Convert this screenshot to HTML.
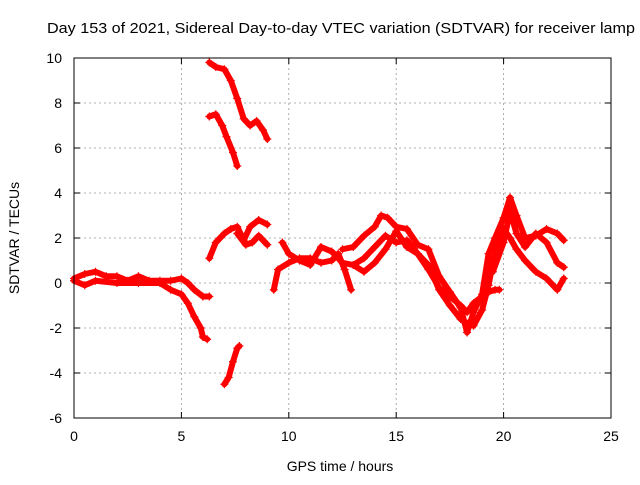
<!DOCTYPE html>
<html><head><meta charset="utf-8"><style>
body{margin:0;background:#fff}
svg text{font-family:"Liberation Sans",sans-serif;font-size:14px;fill:#000}
</style></head><body>
<svg id="chart" width="640" height="480">
<rect width="640" height="480" fill="#fff"/>
<text x="47" y="33" textLength="588" lengthAdjust="spacingAndGlyphs" style="font-size:15px">Day 153 of 2021, Sidereal Day-to-day VTEC variation (SDTVAR) for receiver lamp</text>
<text x="340" y="471" text-anchor="middle">GPS time / hours</text>
<text transform="translate(19,238) rotate(-90)" text-anchor="middle">SDTVAR / TECUs</text>
<g id="grid"></g><g id="ticks"></g><g id="marks"></g>
<rect x="74" y="58" width="537" height="360" fill="none" stroke="#000"/>
</svg>
<script>
const xTicks=[0,5,10,15,20,25];
const yTicks=[-6,-4,-2,0,2,4,6,8,10];
const s1=[[0,0.2],[0.5,0.4],[1,0.5],[1.5,0.3],[2,0.3],[2.5,0.1],[3,0.3],[3.5,0.1],[4,0.1],[4.5,0.1],[5,0.2],[5.3,0],[5.6,-0.3],[6,-0.6],[6.3,-0.6]];
const s1b=[[0,0.1],[0.5,-0.1],[1,0.1],[2,0],[3,0],[4,0],[4.5,-0.3],[5,-0.5],[5.3,-0.9],[5.6,-1.5],[5.9,-2],[6,-2.4],[6.2,-2.5]];
const s2=[[6.3,9.8],[6.6,9.6],[7,9.5],[7.3,9],[7.6,8.2],[7.9,7.3],[8.2,7],[8.5,7.2],[8.8,6.8],[9,6.4]];
const s3=[[6.3,7.4],[6.6,7.5],[6.9,7],[7.1,6.5],[7.4,5.8],[7.6,5.2]];
const s4=[[7,-4.5],[7.2,-4.2],[7.4,-3.5],[7.6,-2.9],[7.7,-2.8]];
const s5=[[6.3,1.1],[6.6,1.8],[7,2.2],[7.3,2.4],[7.6,2.5],[7.9,1.9],[8.2,2.5],[8.6,2.8],[9,2.6]];
const s5b=[[7.6,2.2],[8,1.7],[8.3,1.8],[8.6,2.1],[9,1.7]];
const s6=[[9.3,-0.3],[9.5,0.6],[10,0.9],[10.5,1.1],[11,1.1],[11.5,0.9],[12,1],[12.3,1.3],[12.6,0.6],[12.9,-0.3]];
const s6b=[[9.7,1.8],[10,1.3],[10.5,1.0],[11,0.8],[11.5,1.6],[12,1.4],[12.5,0.9],[13,0.8],[13.5,0.5],[14,0.9],[14.5,1.5],[15,2.3],[15.5,1.6],[16,1.3],[16.5,0.6],[17,-0.2],[17.5,-0.6],[18,-1],[18.3,-1.3],[18.6,-0.9],[19,-0.6],[19.3,-0.4],[19.6,-0.3],[19.8,-0.3]];
const s7=[[12.5,1.5],[13,1.6],[13.5,2.1],[14,2.5],[14.3,3],[14.6,2.9],[15,2.5],[15.5,2.4],[16,1.7],[16.5,1.5],[17,0.3],[17.5,-0.4],[18,-1.1],[18.3,-2.2],[18.6,-1.3],[19,-0.5],[19.3,1.3],[19.6,2],[20,2.9],[20.3,3.8],[20.6,3],[21,2],[21.5,2.1],[22,2.4],[22.5,2.2],[22.8,1.9]];
const s7b=[[13,0.8],[13.5,1.1],[14,1.6],[14.5,2.1],[15,1.8],[15.5,1.9],[16,1.3],[16.5,0.8],[17,-0.3],[17.5,-1],[18,-1.6],[18.3,-1.8],[18.6,-1.9],[19,-1.2],[19.3,-0.1],[19.6,1.4],[20,2.4],[20.3,2],[20.6,1.5],[21,1],[21.5,0.5],[22,0.2],[22.5,-0.3],[22.8,0.2]];
const s8=[[19.5,0.5],[20,1.8],[20.3,3.2],[20.6,2.2],[21,1.6],[21.5,2.2],[22,1.8],[22.5,0.9],[22.8,0.7]];
const series=[s1,s1b,s2,s3,s4,s5,s5b,s6,s6b,s7,s7b,s8];
const NS="http://www.w3.org/2000/svg";
const x0=74,x1=611,y0=418,y1=58;
const sx=v=>x0+(v-0)/(25-0)*(x1-x0);
const sy=v=>y0-(v+6)/16*(y0-y1);
function mk(t,a,p){const e=document.createElementNS(NS,t);for(const k in a)e.setAttribute(k,a[k]);p.appendChild(e);return e;}
const grid=document.getElementById('grid'),ticks=document.getElementById('ticks'),marks=document.getElementById('marks');
xTicks.forEach(v=>{const X=sx(v);
 if(v>0&&v<25){const g=mk('line',{x1:X,x2:X,y1:y1,y2:y0,stroke:'#999','stroke-dasharray':'2,3','stroke-width':0.8},grid);
 
 }
 mk('line',{x1:X,x2:X,y1:y0,y2:y0-6,stroke:'#000'},ticks);mk('line',{x1:X,x2:X,y1:y1,y2:y1+6,stroke:'#000'},ticks);
 const t=mk('text',{x:X,y:y0+23,'text-anchor':'middle'},ticks);t.textContent=v;
 
 });
yTicks.forEach(v=>{const Y=sy(v);
 if(v>-6&&v<10){const g=mk('line',{x1:x0,x2:x1,y1:Y,y2:Y,stroke:'#999','stroke-dasharray':'2,3','stroke-width':0.8},grid);
 
 }
 mk('line',{x1:x0,x2:x0+6,y1:Y,y2:Y,stroke:'#000'},ticks);mk('line',{x1:x1,x2:x1-6,y1:Y,y2:Y,stroke:'#000'},ticks);
 const t=mk('text',{x:x0-12,y:Y+5,'text-anchor':'end'},ticks);t.textContent=v;
 
 });
series.forEach((s,i)=>{
 const g=mk('g',{},marks);
 
 
 mk('polyline',{points:s.map(p=>sx(p[0])+','+sy(p[1])).join(' '),fill:'none',stroke:'#f00','stroke-width':6,'stroke-linejoin':'round','stroke-linecap':'round'},g);
 s.forEach(p=>{const X=sx(p[0]),Y=sy(p[1]);
  mk('path',{d:`M${X-4},${Y}H${X+4}M${X},${Y-4}V${Y+4}`,stroke:'#f00','stroke-width':1.2},g);});
});
</script>
</body></html>
